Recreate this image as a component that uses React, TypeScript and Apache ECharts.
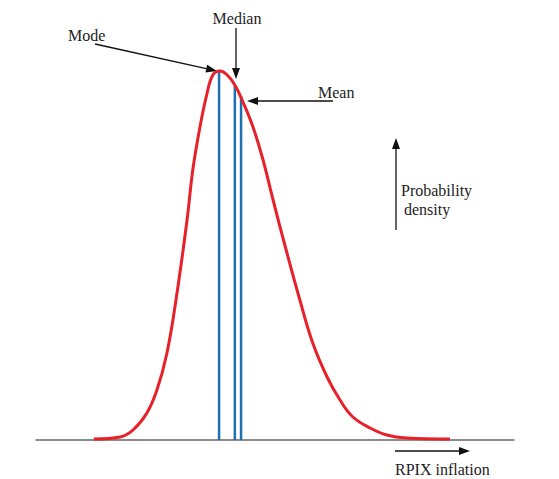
import React, { useEffect, useRef } from 'react';
import * as echarts from 'echarts';

// density curve, x in arbitrary inflation units (0-100), y in density (0-1)
const curveX = [12.1, 17.6, 20.3, 23.2, 25.3, 27.4, 29.5, 31.6, 32.8, 34.3, 35.8, 37.0, 38.5, 40.0, 41.6, 43.3, 45.4, 47.5, 49.6, 52.5, 55.2, 57.9, 60.9, 63.6, 66.3, 69.9, 73.4, 77.6, 86.6];
const curveY = [0.0025, 0.0075, 0.025, 0.0675, 0.125, 0.2175, 0.3675, 0.55, 0.675, 0.7825, 0.8675, 0.9125, 0.9225, 0.9125, 0.8875, 0.845, 0.7825, 0.7, 0.6, 0.4675, 0.35, 0.2425, 0.1575, 0.1, 0.0575, 0.03, 0.0125, 0.005, 0.0025];

const statNames = ['Mode', 'Median', 'Mean'];
const statX = [38.3, 41.6, 42.9];
const statY = [0.922, 0.8875, 0.86];

const FONT = 'Liberation Serif';
const INK = '#111';

// line with filled arrowhead at (x2, y2)
function arrow(x1: number, y1: number, x2: number, y2: number) {
  const dx = x2 - x1;
  const dy = y2 - y1;
  const len = Math.sqrt(dx * dx + dy * dy);
  const ux = dx / len;
  const uy = dy / len;
  const headLen = 11;
  const headW = 4;
  const bx = x2 - ux * headLen;
  const by = y2 - uy * headLen;
  return [
    {
      type: 'line',
      shape: { x1, y1, x2: bx, y2: by },
      style: { stroke: INK, lineWidth: 1.3 }
    },
    {
      type: 'polygon',
      shape: {
        points: [
          [x2, y2],
          [bx - uy * headW, by + ux * headW],
          [bx + uy * headW, by - ux * headW]
        ]
      },
      style: { fill: INK }
    }
  ];
}

function label(text: string, x: number, y: number, align: string = 'left') {
  return {
    type: 'text',
    x,
    y,
    style: {
      text,
      fill: '#222',
      fontFamily: FONT,
      fontSize: 16,
      textAlign: align,
      textVerticalAlign: 'middle'
    }
  };
}

export default function App() {
  const chartRef = useRef<HTMLDivElement>(null);

  useEffect(() => {
    if (!chartRef.current) return;
    document.body.style.margin = '0';

    const chart = echarts.init(chartRef.current, null, { renderer: 'svg' });

    const statSeries = statNames.map((name, i) => ({
      name,
      type: 'line',
      data: [
        [statX[i], 0],
        [statX[i], statY[i]]
      ],
      symbol: 'none',
      lineStyle: { color: '#1f70b0', width: 2.5 },
      z: 2
    }));

    const option: any = {
      animation: false,
      grid: { left: 36, right: 45, top: 40, bottom: 39 },
      xAxis: {
        type: 'value',
        min: 0,
        max: 100,
        axisLine: { show: true, lineStyle: { color: '#666', width: 1.5 } },
        axisTick: { show: false },
        axisLabel: { show: false },
        splitLine: { show: false }
      },
      yAxis: {
        type: 'value',
        min: 0,
        max: 1,
        show: false
      },
      series: [
        ...statSeries,
        {
          name: 'Density',
          type: 'line',
          data: curveX.map((x, i) => [x, curveY[i]]),
          smooth: 0.4,
          symbol: 'none',
          lineStyle: { color: '#e8202a', width: 3 },
          z: 3
        }
      ],
      graphic: [
        label('Mode', 68, 35),
        ...arrow(95, 44, 217, 71),
        label('Median', 237, 18, 'center'),
        ...arrow(236, 28, 236, 79),
        label('Mean', 318, 92),
        ...arrow(333, 101, 247, 101),
        ...arrow(396, 230, 396, 138),
        label('Probability', 401, 190),
        label('density', 404, 209),
        ...arrow(395, 451, 470, 451),
        label('RPIX inflation', 395, 469)
      ]
    };

    chart.setOption(option);

    return () => {
      chart.dispose();
    };
  }, []);

  return <div ref={chartRef} style={{ width: 559, height: 479 }} />;
}
